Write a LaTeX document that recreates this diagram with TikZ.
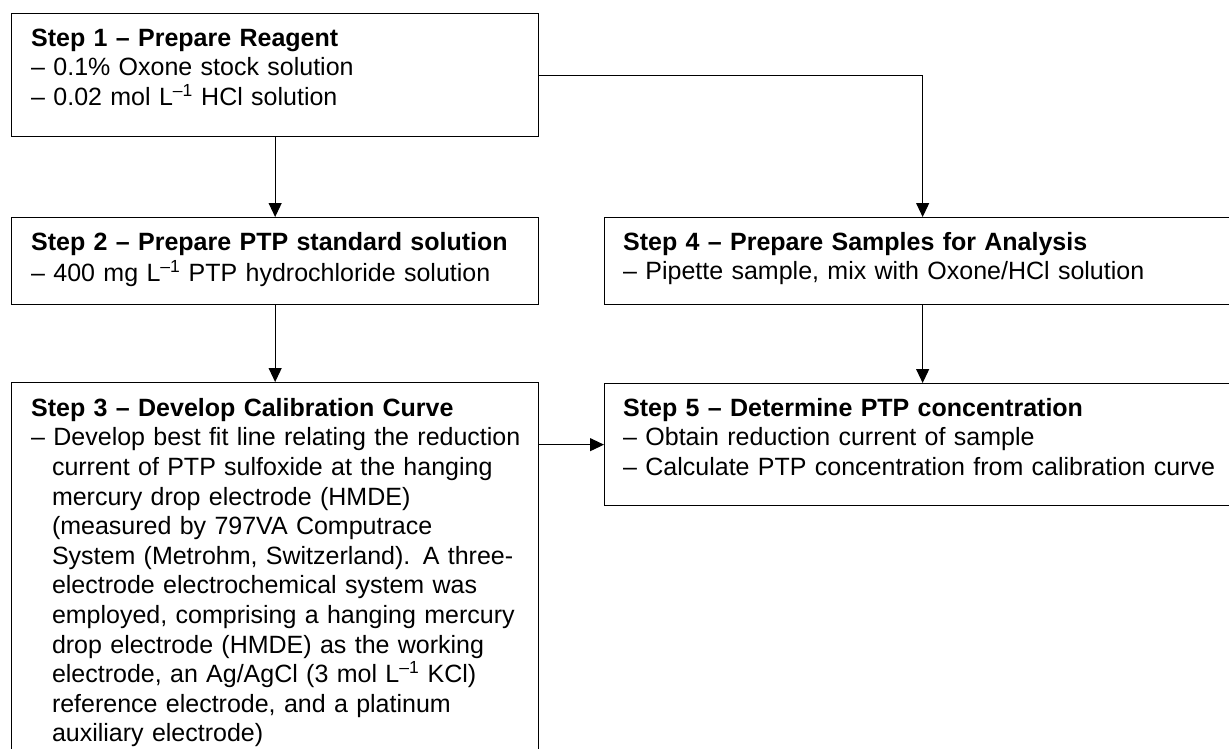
\documentclass[tikz,border=0pt]{standalone}
\usepackage{fontspec}
\setmainfont{Liberation Sans}
\usetikzlibrary{arrows.meta}
\begin{document}
\begin{tikzpicture}[x=1pt,y=-1pt,
  box/.style={draw=black, line width=1.3pt, fill=white, inner sep=0pt, anchor=north west},
  txt/.style={anchor=north west, inner sep=0pt, align=left, font=\fontsize{25}{29.6}\selectfont},
  conn/.style={draw=black, line width=1.1pt, -{Triangle[length=14pt,width=13pt]}}]
\useasboundingbox (0,0) rectangle (1229,748);
\clip (0,0) rectangle (1229,748);
% boxes
\node[box, minimum width=527pt, minimum height=123pt] (s1) at (11,13) {};
\node[box, minimum width=527pt, minimum height=87pt] (s2) at (11,217) {};
\node[box, minimum width=527pt, minimum height=400pt] (s3) at (11,382) {};
\node[box, minimum width=636pt, minimum height=87pt] (s4) at (604,217) {};
\node[box, minimum width=636pt, minimum height=122pt] (s5) at (604,383) {};
% texts
\node[txt, text width=500pt] (t1) at (31,25.3) {\strut\textbf{Step 1 – Prepare Reagent}\\
– 0.1\% Oxone stock solution\\
– 0.02 mol L\textsuperscript{–1} HCl solution};
\node[txt, text width=500pt] (t2) at (31,229.3) {\strut\textbf{Step 2 – Prepare PTP standard solution}\\
– 400 mg L\textsuperscript{–1} PTP hydrochloride solution};
\node[txt, text width=505pt] (t3) at (31,395.3) {\strut\textbf{Step 3 – Develop Calibration Curve}\\
– Develop best fit line relating the reduction\\
\hspace*{20.8pt}current of PTP sulfoxide at the hanging\\
\hspace*{20.8pt}mercury drop electrode (HMDE)\\
\hspace*{20.8pt}(measured by 797VA Computrace\\
\hspace*{20.8pt}System (Metrohm, Switzerland). A three-\\
\hspace*{20.8pt}electrode electrochemical system was\\
\hspace*{20.8pt}employed, comprising a hanging mercury\\
\hspace*{20.8pt}drop electrode (HMDE) as the working\\
\hspace*{20.8pt}electrode, an Ag/AgCl (3 mol L\textsuperscript{–1} KCl)\\
\hspace*{20.8pt}reference electrode, and a platinum\\
\hspace*{20.8pt}auxiliary electrode)};
\node[txt, text width=600pt] (t4) at (623,229.3) {\strut\textbf{Step 4 – Prepare Samples for Analysis}\\
– Pipette sample, mix with Oxone/HCl solution};
\node[txt, text width=600pt] (t5) at (623,395.3) {\strut\textbf{Step 5 – Determine PTP concentration}\\
– Obtain reduction current of sample\\
– Calculate PTP concentration from calibration curve};
% connectors
\draw[conn] (s1.south) -- (s2.north);
\draw[conn] (s2.south) -- (s3.north);
\draw[conn] (s1.east) -| (s4.north);
\draw[conn] (s4.south) -- (s5.north);
\draw[conn] (s5.west -| s3.east) -- (s5.west);
\end{tikzpicture}
\end{document}
